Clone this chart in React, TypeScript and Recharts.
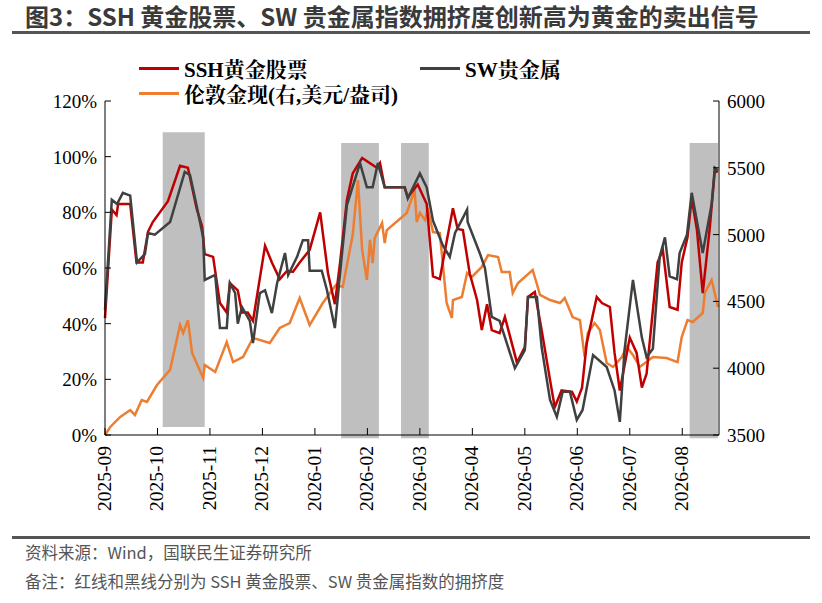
import React from "react";
import { LineChart, Line, XAxis, YAxis, ReferenceArea } from "recharts";

const monthLabels = ["2025-09","2025-10","2025-11","2025-12","2026-01","2026-02","2026-03","2026-04","2026-05","2026-06","2026-07","2026-08"];
const pctTicks = [0,20,40,60,80,100,120];
const goldTicks = [3500,4000,4500,5000,5500,6000];

const sshX = [0,.13,.22,.25,.48,.60,.72,.82,.91,1.20,1.43,1.58,1.75,1.85,1.90,2.06,2.19,2.32,2.38,2.53,2.61,2.72,2.82,3.05,3.18,3.33,3.47,3.58,3.71,3.90,4.10,4.25,4.38,4.48,4.61,4.72,4.90,5.18,5.24,5.33,5.71,5.77,5.96,6.13,6.25,6.38,6.48,6.63,6.72,6.82,6.95,7.09,7.18,7.28,7.37,7.52,7.62,7.85,8.00,8.06,8.19,8.32,8.48,8.57,8.70,8.90,8.99,9.09,9.18,9.37,9.47,9.62,9.71,9.81,10.00,10.13,10.23,10.32,10.53,10.63,10.76,10.91,10.99,11.10,11.18,11.28,11.39,11.52,11.62,11.68];
const sshY = [42,81,79,83,83,62,62,73,76.5,84,96.7,96,81,75,65,64,47.4,44,54.6,52,44,44,41,68,62,56,59,58.6,62,66.5,80,58,47,62,84.5,94,99.5,96,97.7,89,89,85.5,90,83,57,56,66.5,81.5,74,73.6,58,48.5,37.7,47,37.7,36.6,42.4,26,31.6,49.6,51.4,37.7,19.8,10,16,15.5,12,17,33,49.6,47.4,46,29.5,16,35,29.5,17,22,62,66.5,46,45,62,71,85,73.6,51,73.6,95,94.5];

const swX = [0,.13,.23,.34,.48,.61,.76,.82,.95,1.24,1.52,1.62,1.75,1.87,1.90,2.10,2.19,2.32,2.38,2.48,2.53,2.61,2.76,2.82,2.95,3.05,3.18,3.28,3.43,3.49,3.66,3.77,3.87,3.90,4.13,4.23,4.38,4.51,4.61,4.86,4.99,5.10,5.20,5.33,5.71,5.77,6.00,6.13,6.25,6.44,6.57,6.67,6.82,6.90,6.91,7.14,7.24,7.37,7.52,7.81,8.00,8.06,8.23,8.32,8.48,8.61,8.72,8.86,8.99,9.10,9.30,9.56,9.71,9.81,9.90,10.06,10.23,10.32,10.44,10.57,10.67,10.76,10.90,10.95,11.09,11.18,11.39,11.56,11.62,11.68];
const swY = [45,84.5,83,87,86,62,65,72.6,72,76.5,94.5,93.4,82,71,55.7,57.5,38.4,38.4,54.6,51,40,46,41,33,51,52,43.8,54.6,65.4,57.5,64,70,70,59,59,52,38.4,64,82.6,97.7,89,89,97.7,89,89,85,94,89,77,68,64,72.6,78,81,76.5,65.4,60,42.4,41,24,30.5,49.6,49.6,31.6,12.6,6.5,15.5,15.5,5.4,9,28.7,24.4,16,4.7,30.5,55.7,35,28,31,64,71,57,56,65.4,72,87,65.4,83,96,95];

const goldX = [0,.10,.29,.48,.57,.70,.80,.99,1.24,1.43,1.49,1.58,1.66,1.87,1.90,2.10,2.32,2.44,2.63,2.82,3.14,3.33,3.52,3.71,3.90,4.15,4.40,4.53,4.72,4.82,4.90,4.99,5.05,5.10,5.14,5.28,5.33,5.37,5.75,5.90,5.94,6.00,6.10,6.15,6.25,6.38,6.51,6.61,6.63,6.80,6.90,6.99,7.18,7.30,7.49,7.56,7.71,7.77,7.87,8.15,8.29,8.48,8.67,8.76,8.91,9.05,9.14,9.20,9.33,9.43,9.56,9.68,9.85,9.94,10.06,10.19,10.44,10.70,10.91,10.99,11.10,11.20,11.39,11.43,11.56,11.68];
const goldY = [3500,3560,3635,3687,3650,3762,3747,3874,3987,4323,4263,4360,4114,3927,4024,3972,4196,4046,4084,4226,4189,4301,4338,4525,4323,4488,4623,4608,4997,5408,4885,4660,4960,4787,4975,5087,4937,5034,5162,5334,5094,5162,5109,5199,5019,5012,4488,4376,4510,4533,4713,4683,4758,4847,4832,4720,4720,4563,4638,4735,4548,4510,4488,4525,4383,4360,4084,4263,4338,4286,4039,4009,4084,4159,4099,4009,4084,4076,4046,4233,4360,4346,4413,4563,4660,4458];

const shades = [
  { x1: 1.10, x2: 1.90, y1: 2.9, y2: 108.8 },
  { x1: 4.50, x2: 5.22, y1: -1.2, y2: 104.9 },
  { x1: 5.64, x2: 6.17, y1: -1.2, y2: 104.9 },
  { x1: 11.14, x2: 11.68, y1: -1.2, y2: 104.9 },
];

const ssh = sshX.map((x, i) => ({ x, v: sshY[i] }));
const sw = swX.map((x, i) => ({ x, v: swY[i] }));
const gold = goldX.map((x, i) => ({ x, v: goldY[i] }));

const serif = "'Liberation Serif', 'Noto Serif CJK SC', serif";
const sans = "'Noto Sans CJK SC', 'Noto Sans', sans-serif";

const XTick = (p: any) => {
  const { x, payload } = p;
  return (
    <g>
      <line x1={x} x2={x} y1={435} y2={428} stroke="#000" strokeWidth={1} />
      <text transform={`rotate(-90 ${x} ${446})`} x={x} y={446} dy={6} textAnchor="end"
        fontFamily={serif} fontSize={19.5} fill="#000">{monthLabels[payload.value]}</text>
    </g>
  );
};

const LTick = (p: any) => {
  const { x, y, payload } = p;
  return (
    <g>
      <line x1={105} x2={111} y1={y} y2={y} stroke="#000" />
      <text x={x} y={y + 7} textAnchor="end" fontFamily={serif} fontSize={19} fill="#000">{payload.value}%</text>
    </g>
  );
};

const RTick = (p: any) => {
  const { x, y, payload } = p;
  return (
    <g>
      <line x1={713} x2={719} y1={y} y2={y} stroke="#000" />
      <text x={x} y={y + 7} textAnchor="start" fontFamily={serif} fontSize={19} fill="#000">{payload.value}</text>
    </g>
  );
};

const LegendItem = ({ color, label, left, top }: any) => (
  <div style={{ position: "absolute", left, top, display: "flex", alignItems: "center" }}>
    <div style={{ width: 40, height: 3, background: color, marginRight: 5 }} />
    <span style={{ fontFamily: serif, fontWeight: "bold", fontSize: 21, color: "#000", whiteSpace: "nowrap" }}>{label}</span>
  </div>
);

export default function App() {
  return (
    <div style={{ position: "absolute", left: 0, top: 0, width: 822, height: 603, background: "#fff" }}>
      <div style={{ position: "absolute", left: 25, top: 2, fontFamily: sans, fontWeight: "bold", fontSize: 24, lineHeight: "28px", color: "#3a3a3a", whiteSpace: "nowrap" }}>
        图3：SSH 黄金股票、SW 贵金属指数拥挤度创新高为黄金的卖出信号
      </div>
      <div style={{ position: "absolute", left: 12, top: 31, width: 798, height: 3, background: "#555" }} />
      <LegendItem color="#C00000" label="SSH黄金股票" left={139} top={53} />
      <LegendItem color="#404040" label="SW贵金属" left={420} top={53} />
      <LegendItem color="#ED7D31" label="伦敦金现(右,美元/盎司)" left={139} top={78} />
      <LineChart width={822} height={603} margin={{ top: 101, right: 23, bottom: 138, left: 45 }}>
        <XAxis dataKey="x" type="number" domain={[0, 11.7]} ticks={[0,1,2,3,4,5,6,7,8,9,10,11]}
          tick={<XTick />} tickLine={false} stroke="#000" interval={0} height={30} />
        <YAxis yAxisId="l" domain={[0, 120]} ticks={pctTicks} width={60} tick={<LTick />} tickLine={false} stroke="#000" interval={0} />
        <YAxis yAxisId="r" orientation="right" domain={[3500, 6000]} ticks={goldTicks} width={80} tick={<RTick />} tickLine={false} stroke="#000" interval={0} />
        {shades.map((s, i) => (
          <ReferenceArea key={i} yAxisId="l" x1={s.x1} x2={s.x2} y1={s.y1} y2={s.y2} fill="#BFBFBF" fillOpacity={1} stroke="none" ifOverflow="visible" />
        ))}
        <Line yAxisId="r" data={gold} dataKey="v" stroke="#ED7D31" strokeWidth={2.5} dot={false} isAnimationActive={false} />
        <Line yAxisId="l" data={ssh} dataKey="v" stroke="#C00000" strokeWidth={2.5} dot={false} isAnimationActive={false} />
        <Line yAxisId="l" data={sw} dataKey="v" stroke="#404040" strokeWidth={2.5} dot={false} isAnimationActive={false} />
      </LineChart>
      <div style={{ position: "absolute", left: 12, top: 536, width: 798, height: 3, background: "#555" }} />
      <div style={{ position: "absolute", left: 25, top: 540, fontFamily: sans, fontSize: 16.5, color: "#555", whiteSpace: "nowrap" }}>资料来源：Wind，国联民生证券研究所</div>
      <div style={{ position: "absolute", left: 25, top: 569, fontFamily: sans, fontSize: 16.5, color: "#555", whiteSpace: "nowrap" }}>备注：红线和黑线分别为 SSH 黄金股票、SW 贵金属指数的拥挤度</div>
    </div>
  );
}
